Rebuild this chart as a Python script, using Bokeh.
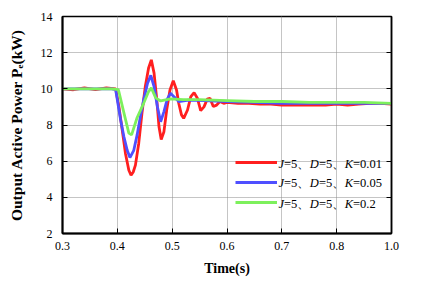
import numpy as np
from bokeh.plotting import figure
from bokeh.models import (FixedTicker, LinearAxis, Legend, LegendItem, Label,
                          CustomJSTickFormatter, Range1d)
from bokeh.embed import file_html
from bokeh.resources import INLINE

# ---------------- data ----------------
t_red = [0.30, 0.32, 0.34, 0.36, 0.38, 0.397, 0.403, 0.409, 0.415, 0.421, 0.425, 0.429,
         0.433, 0.439, 0.445, 0.451, 0.457, 0.462, 0.467, 0.472, 0.476, 0.480, 0.485,
         0.490, 0.496, 0.502, 0.508, 0.512, 0.517, 0.521, 0.528, 0.534, 0.540, 0.546,
         0.552, 0.558, 0.564, 0.569, 0.575, 0.581, 0.587, 0.594, 0.60, 0.62, 0.64,
         0.66, 0.68, 0.70, 0.72, 0.74, 0.76, 0.78, 0.80, 0.82, 0.84, 0.86, 0.88, 0.90]
p_red = [10.0, 9.95, 10.05, 9.95, 10.05, 10.0, 9.0, 7.7, 6.4, 5.5, 5.22, 5.4,
         5.78, 6.98, 8.67, 10.13, 11.15, 11.6, 10.87, 9.39, 7.9, 7.2, 7.63,
         8.83, 9.94, 10.45, 9.94, 9.2, 8.56, 8.37, 8.83, 9.57, 9.79, 9.48,
         8.8, 9.0, 9.43, 9.48, 9.02, 9.1, 9.3, 9.2, 9.25, 9.2, 9.2,
         9.15, 9.15, 9.1, 9.1, 9.1, 9.1, 9.1, 9.15, 9.1, 9.15, 9.2, 9.2, 9.15]

t_blue = [0.30, 0.33, 0.36, 0.39, 0.397, 0.406, 0.412, 0.418, 0.423, 0.430, 0.436, 0.442,
          0.448, 0.455, 0.461, 0.467, 0.473, 0.479, 0.485, 0.491, 0.497, 0.503, 0.512,
          0.53, 0.56, 0.60, 0.65, 0.70, 0.75, 0.80, 0.85, 0.90]
p_blue = [10.0, 10.0, 10.0, 10.0, 9.95, 8.28, 7.35, 6.6, 6.2, 6.6, 7.44, 8.46,
          9.39, 10.3, 10.75, 10.13, 9.02, 8.18, 8.74, 9.43, 9.76, 9.57, 9.3,
          9.38, 9.35, 9.3, 9.25, 9.2, 9.2, 9.2, 9.2, 9.2]

t_green = [0.30, 0.33, 0.36, 0.39, 0.402, 0.412, 0.421, 0.426, 0.436, 0.448, 0.457, 0.462,
           0.470, 0.479, 0.497, 0.52, 0.55, 0.60, 0.65, 0.70, 0.75, 0.80, 0.85, 0.90]
p_green = [10.0, 10.0, 10.0, 10.0, 9.95, 8.67, 7.55, 7.45, 8.4, 9.2, 9.85, 10.05,
           9.5, 9.33, 9.45, 9.4, 9.4, 9.35, 9.3, 9.3, 9.25, 9.25, 9.25, 9.2]

x_ticks = [0.3, 0.4, 0.5, 0.6, 0.7, 0.8, 0.9]
x_tick_labels = ["0.3", "0.4", "0.5", "0.6", "0.7", "0.8", "1.0"]
y_ticks = [2, 4, 6, 8, 10, 12, 14]

legend_rows = [
    [("J", "italic"), ("=5", "normal"), ("、", "normal"), ("D", "italic"), ("=5", "normal"),
     ("、", "normal"), ("K", "italic"), ("=0.01", "normal")],
    [("J", "italic"), ("=5", "normal"), ("、", "normal"), ("D", "italic"), ("=5", "normal"),
     ("、", "normal"), ("K", "italic"), ("=0.05", "normal")],
    [("J", "italic"), ("=5", "normal"), ("、", "normal"), ("D", "italic"), ("=5", "normal"),
     ("、", "normal"), ("K", "italic"), ("=0.2", "normal")],
]
colors = ["#ff1f1f", "#4f4fff", "#7df05c"]

FONT = "Liberation Serif"

p = figure(width=435, height=283, output_backend="svg", toolbar_location=None,
           x_range=Range1d(0.3, 0.9), y_range=Range1d(2, 14),
           min_border_left=62, min_border_right=44, min_border_top=16, min_border_bottom=50)
p.background_fill_color = "white"
p.border_fill_color = "white"
p.outline_line_color = "black"
p.outline_line_width = 1.5

rs = []
for tt, pp, c in zip([t_red, t_blue, t_green], [p_red, p_blue, p_green], colors):
    rs.append(p.line(tt, pp, line_color=c, line_width=2.8))

# axes
p.xaxis.ticker = FixedTicker(ticks=x_ticks)
p.xaxis.major_label_overrides = {t: s for t, s in zip(x_ticks, x_tick_labels)}
p.yaxis.ticker = FixedTicker(ticks=y_ticks)
for ax in [p.xaxis[0], p.yaxis[0]]:
    ax.minor_tick_line_color = None
    ax.major_tick_in = 5
    ax.major_tick_out = 0
    ax.axis_line_width = 2
    ax.axis_line_color = "black"
    ax.major_tick_line_color = "black"
    ax.major_label_text_font = FONT
    ax.major_label_text_font_size = "12px"
    ax.major_label_text_color = "black"
    ax.axis_label_text_font = FONT
    ax.axis_label_text_font_style = "bold"
    ax.axis_label_text_color = "black"

p.xaxis.axis_label = "Time(s)"
p.yaxis.axis_label = "Output Active Power P\u2091(kW)"
p.xaxis.axis_label_text_font_size = "14px"
p.yaxis.axis_label_text_font_size = "15.5px"
p.xaxis.major_label_standoff = 8
p.xaxis.axis_label_standoff = 8
p.yaxis.major_label_standoff = 10
p.yaxis.axis_label_standoff = 13

right = LinearAxis(ticker=FixedTicker(ticks=y_ticks),
                   formatter=CustomJSTickFormatter(code="return ''"),
                   major_tick_in=5, major_tick_out=0, minor_tick_line_color=None,
                   axis_line_color="black", axis_line_width=1.5, major_label_standoff=0)
p.add_layout(right, "right")

p.grid.grid_line_color = "#8a8a8a"
p.grid.grid_line_dash = "1 1"
p.grid.grid_line_width = 1
p.xgrid.ticker = FixedTicker(ticks=x_ticks)
p.ygrid.ticker = FixedTicker(ticks=y_ticks)

# legend sample lines
leg = Legend(items=[LegendItem(label="", renderers=[r]) for r in rs],
             location=(173, 21), orientation="vertical",
             glyph_width=42, glyph_height=20, label_height=20, label_width=0,
             label_standoff=0, spacing=0, padding=0, margin=0,
             border_line_alpha=0, background_fill_alpha=0)
p.add_layout(leg)

# legend texts with mixed italics
fs = 12.5
em = {"J": 0.444, "=5": 1.064, "、": 1.0, "D": 0.722, "K": 0.667,
      "=0.01": 2.314, "=0.05": 2.314, "=0.2": 1.814}
row_y = [70, 51, 30]
for row, yy in zip(legend_rows, row_y):
    xx = 216
    for txt, style in row:
        p.add_layout(Label(x=xx, y=yy, x_units="screen", y_units="screen", text=txt,
                           text_font=FONT, text_font_size=f"{fs}px", text_font_style=style,
                           text_baseline="middle", text_align="left", text_color="black"))
        xx += em[txt] * fs

open("out.html", "w").write(file_html(p, INLINE))
